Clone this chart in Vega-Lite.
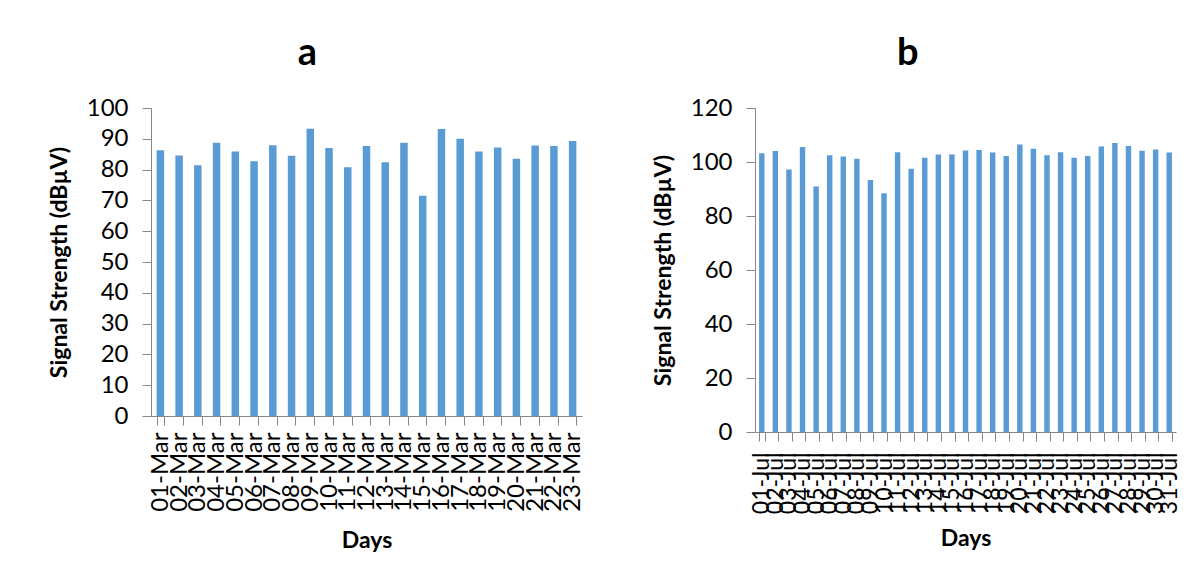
{
  "$schema": "https://vega.github.io/schema/vega-lite/v6.json",
  "background": "white",
  "padding": {"left": 48, "top": 35, "right": 0, "bottom": 0},
  "spacing": 67,
  "config": {
    "font": "Lato",
    "view": {"stroke": null},
    "axis": {"labelFont": "Lato", "labelFontSize": 23, "labelColor": "#000000", "titleFont": "Lato", "titleFontSize": 23, "titleFontWeight": "bold", "titleColor": "#000000", "domainColor": "#868686", "tickColor": "#868686", "tickSize": 9, "grid": false},
    "title": {"font": "Lato", "fontSize": 38, "fontWeight": "bold", "color": "#000000", "anchor": "middle", "frame": "bounds", "baseline": "alphabetic", "offset": 23, "dx": -9},
    "bar": {"color": "#5B9BD5"}
  },
  "datasets": {
    "march": [
      {"day": "01-Mar", "signal": 86.3}, {"day": "02-Mar", "signal": 84.6}, {"day": "03-Mar", "signal": 81.4},
      {"day": "04-Mar", "signal": 88.7}, {"day": "05-Mar", "signal": 85.9}, {"day": "06-Mar", "signal": 82.7},
      {"day": "07-Mar", "signal": 87.9}, {"day": "08-Mar", "signal": 84.5}, {"day": "09-Mar", "signal": 93.3},
      {"day": "10-Mar", "signal": 87.0}, {"day": "11-Mar", "signal": 80.8}, {"day": "12-Mar", "signal": 87.7},
      {"day": "13-Mar", "signal": 82.4}, {"day": "14-Mar", "signal": 88.7}, {"day": "15-Mar", "signal": 71.5},
      {"day": "16-Mar", "signal": 93.2}, {"day": "17-Mar", "signal": 90.0}, {"day": "18-Mar", "signal": 85.9},
      {"day": "19-Mar", "signal": 87.2}, {"day": "20-Mar", "signal": 83.5}, {"day": "21-Mar", "signal": 87.8},
      {"day": "22-Mar", "signal": 87.7}, {"day": "23-Mar", "signal": 89.3}
    ],
    "july": [
      {"day": "01-Jul", "signal": 103.2}, {"day": "02-Jul", "signal": 104.1}, {"day": "03-Jul", "signal": 97.2},
      {"day": "04-Jul", "signal": 105.6}, {"day": "05-Jul", "signal": 90.9}, {"day": "06-Jul", "signal": 102.5},
      {"day": "07-Jul", "signal": 102.0}, {"day": "08-Jul", "signal": 101.2}, {"day": "09-Jul", "signal": 93.3},
      {"day": "10-Jul", "signal": 88.4}, {"day": "11-Jul", "signal": 103.6}, {"day": "12-Jul", "signal": 97.5},
      {"day": "13-Jul", "signal": 101.6}, {"day": "14-Jul", "signal": 102.8}, {"day": "15-Jul", "signal": 102.8},
      {"day": "16-Jul", "signal": 104.3}, {"day": "17-Jul", "signal": 104.4}, {"day": "18-Jul", "signal": 103.5},
      {"day": "19-Jul", "signal": 102.2}, {"day": "20-Jul", "signal": 106.5}, {"day": "21-Jul", "signal": 104.9},
      {"day": "22-Jul", "signal": 102.5}, {"day": "23-Jul", "signal": 103.6}, {"day": "24-Jul", "signal": 101.6},
      {"day": "25-Jul", "signal": 102.2}, {"day": "26-Jul", "signal": 105.7}, {"day": "27-Jul", "signal": 107.0},
      {"day": "28-Jul", "signal": 105.9}, {"day": "29-Jul", "signal": 104.2}, {"day": "30-Jul", "signal": 104.6},
      {"day": "31-Jul", "signal": 103.5}
    ]
  },
  "hconcat": [
    {
      "title": "a",
      "width": 431,
      "height": 308,
      "data": {"name": "march"},
      "mark": {"type": "bar"},
      "encoding": {
        "x": {"field": "day", "type": "ordinal", "sort": null, "title": "Days",
          "scale": {"paddingInner": 0.6, "paddingOuter": 0.3},
          "axis": {"labelAngle": -90, "labelFontSize": 24, "tickBand": "extent", "labelPadding": 7, "titlePadding": 18}},
        "y": {"field": "signal", "type": "quantitative", "title": "Signal Strength (dBµV)",
          "scale": {"domain": [0, 100]},
          "axis": {"values": [0, 10, 20, 30, 40, 50, 60, 70, 80, 90, 100], "labelFontSize": 24, "labelPadding": 14, "titlePadding": 15}}
      }
    },
    {
      "title": "b",
      "width": 421,
      "height": 324,
      "data": {"name": "july"},
      "mark": {"type": "bar"},
      "encoding": {
        "x": {"field": "day", "type": "ordinal", "sort": null, "title": "Days",
          "scale": {"paddingInner": 0.6, "paddingOuter": 0.3},
          "axis": {"labelAngle": -90, "tickBand": "extent", "labelPadding": 11, "titlePadding": 14}},
        "y": {"field": "signal", "type": "quantitative", "title": "Signal Strength (dBµV)",
          "scale": {"domain": [0, 120]},
          "axis": {"values": [0, 20, 40, 60, 80, 100, 120], "labelFontSize": 24, "labelPadding": 14, "titlePadding": 15}}
      }
    }
  ]
}
